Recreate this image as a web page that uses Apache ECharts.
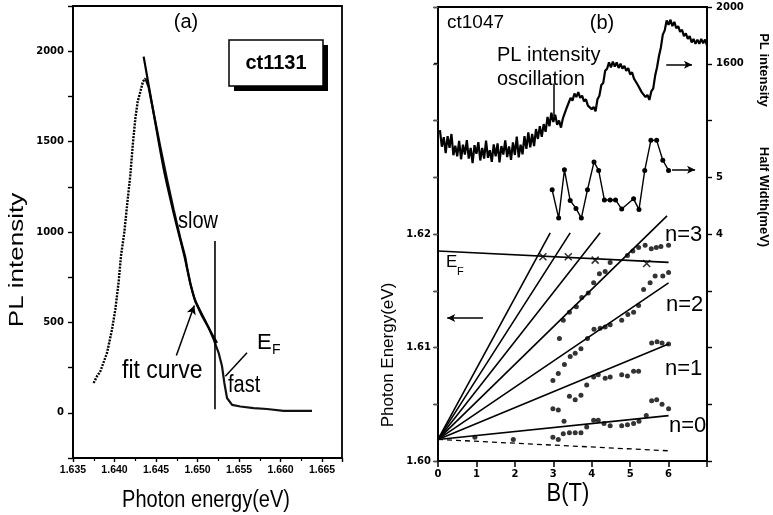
<!DOCTYPE html>
<html><head><meta charset="utf-8">
<script src="https://cdn.jsdelivr.net/npm/echarts@6/dist/echarts.min.js"></script>
<style>html,body{margin:0;padding:0;background:#fff}#c{width:773px;height:515px}</style>
</head><body><div id="c"></div>
<script>
// ---------- Panel (a) data ----------
const aRiseE = [1.63748,1.63789,1.63829,1.63910,1.63970,1.64010,1.64049,1.64078,1.64118,1.64151,1.64190,1.64223,1.64251,1.64279,1.64311,1.64343,1.64371];
const aRiseI = [165,202,229,332,461,572,721,868,998,1146,1313,1498,1628,1721,1776,1832,1850];
const aFallE = [1.64371,1.64411,1.64471,1.64552,1.64633,1.64712,1.64793,1.64853,1.64873,1.64913,1.64973,1.65054,1.65134,1.65194,1.65254,1.65295,1.65323,1.65355,1.65416,1.65516,1.65676,1.65837,1.66037,1.66379];
const aFallI = [1850,1800,1660,1470,1290,1125,965,860,805,715,615,535,470,406,332,257,165,82,44,35,26,21,11,11];
const aFitE = [1.64351,1.6447,1.64592,1.6472,1.6484,1.64953,1.6508,1.6518,1.65235];
const aFitI = [1970,1660,1350,1090,870,646,520,430,387];
const aEfE = [1.6521,1.6521];
const aEfI = [20,950];
const aXTicks = [1.635,1.640,1.645,1.650,1.655,1.660,1.665];
const aYTicks = [0,500,1000,1500,2000];

// ---------- Panel (b) data ----------
const bOrigin = [0, 1.6019];
const bFanEndB = [6, 6, 6, 5.96, 4.22, 3.44, 2.92];
const bFanEndE = [1.6040, 1.6103, 1.6157, 1.6216, 1.6201, 1.6201, 1.6201];
const bEfB = [0, 6];
const bEfE = [1.6185, 1.6175];
const bDashB = [0, 6];
const bDashE = [1.6019, 1.6009];
const bDotB = [4.93,5.07,5.22,5.39,5.55,5.68,5.80,6.00,
  3.26,3.42,3.60,3.74,3.91,4.05,4.20,4.35,4.48,
  5.35,5.52,5.65,5.85,6.00,
  5.22,5.09,4.94,4.78,4.48,4.35,4.22,4.06,3.89,3.72,3.57,3.44,3.29,3.13,2.99,3.16,
  5.22,5.09,4.93,4.78,4.48,4.35,4.17,4.05,3.87,3.72,3.57,3.42,
  5.56,5.70,5.83,6.00,
  2.99,3.13,3.28,4.05,4.17,4.32,4.48,4.78,4.93,5.09,5.23,5.42,5.56,5.69,5.83,6.00,
  2.99,3.13,3.26,3.42,3.57,3.72,3.87,
  0.96,1.96];
const bDotE = [1.6181,1.6185,1.6188,1.6190,1.6187,1.6188,1.6189,1.6190,
  1.6124,1.6131,1.6136,1.6144,1.6148,1.6157,1.6165,1.6167,1.6175,
  1.6151,1.6157,1.6163,1.6163,1.6166,
  1.6137,1.6131,1.6129,1.6124,1.6120,1.6118,1.6117,1.6116,1.6108,1.6099,1.6095,1.6092,1.6085,1.6077,1.6071,1.6108,
  1.6079,1.6079,1.6075,1.6076,1.6074,1.6073,1.6076,1.6074,1.6067,1.6058,1.6054,1.6057,
  1.6104,1.6105,1.6104,1.6103,
  1.6046,1.6045,1.6035,1.6036,1.6036,1.6033,1.6031,1.6031,1.6032,1.6033,1.6035,1.6040,1.6053,1.6054,1.6050,1.6046,
  1.6021,1.6019,1.6024,1.6025,1.6025,1.6025,1.6030,
  1.6021,1.6019];
const bCrossB = [2.73, 3.39, 4.09, 5.43];
const bCrossE = [1.6180, 1.6180, 1.6177, 1.6174];
const bHwB = [2.97,3.14,3.29,3.44,3.59,3.73,3.89,4.06,4.18,4.33,4.48,4.62,4.78,5.09,5.23,5.38,5.54,5.69,5.85,6.0];
const bHwV = [4.78,4.28,5.13,4.59,4.45,4.28,4.78,5.27,5.12,4.60,4.60,4.60,4.44,4.62,4.43,5.12,5.65,5.65,5.30,5.12];
const bPlB = [0.05,0.1,0.15,0.2,0.25,0.3,0.35,0.4,0.45,0.5,0.55,0.6,0.65,0.7,0.75,0.8,0.85,0.9,0.95,1.0,
  1.05,1.1,1.15,1.2,1.25,1.3,1.35,1.4,1.45,1.5,1.55,1.6,1.65,1.7,1.75,1.8,1.85,1.9,1.95,2.0,
  2.05,2.1,2.15,2.2,2.25,2.3,2.35,2.4,2.45,2.5,2.55,2.6,2.65,2.7,2.75,2.8,2.85,2.9,2.95,3.0,
  3.05,3.1,3.15,3.2,3.25,3.3,3.35,3.4,3.45,3.5,3.55,3.6,3.65,3.7,3.75,3.8,3.85,3.9,3.95,4.0,
  4.05,4.1,4.15,4.2,4.25,4.3,4.35,4.4,4.45,4.5,4.55,4.6,4.65,4.7,4.75,4.8,4.85,4.9,4.95,5.0,
  5.05,5.1,5.15,5.2,5.25,5.3,5.35,5.4,5.45,5.5,5.55,5.6,5.65,5.7,5.75,5.8,5.85,5.9,5.95,6.0,
  6.05,6.1,6.15,6.2,6.25,6.3,6.35,6.4,6.45,6.5,6.55,6.6,6.65,6.7,6.75,6.8,6.85,6.9,6.95,7.0];
const bPlV = [1133,1015,1082,970,1090,1007,1105,955,1022,947,1057,927,1030,960,1062,932,1007,899,1026,965,
  1047,918,1007,931,1058,937,991,909,1031,948,1039,905,1020,960,1060,942,1018,922,1045,957,
  1087,940,1030,962,1090,1000,1117,1010,1105,1020,1140,1070,1160,1085,1175,1120,1225,1160,1255,1190,
  1240,1170,1200,1150,1215,1220,1290,1295,1360,1340,1390,1365,1400,1360,1375,1335,1350,1305,1315,1280,
  1295,1265,1350,1375,1450,1465,1550,1565,1610,1575,1615,1580,1610,1570,1600,1565,1585,1550,1570,1525,
  1540,1495,1495,1450,1445,1400,1405,1365,1380,1345,1405,1425,1515,1575,1655,1715,1805,1835,1905,1875,
  1910,1865,1895,1850,1865,1825,1840,1795,1815,1775,1795,1750,1775,1740,1770,1740,1775,1745,1770,1730];
const bXTicks = [0,1,2,3,4,5,6];
const bEnergyTicks = [1.60, 1.61, 1.62];
const bHwTicks = [4, 5];
const bPlTicks = [1600, 2000];

// ---------- helpers ----------
const zip = (xs, ys) => xs.map((x, i) => [x, ys[i]]);
const near = (v, list) => list.some(t => Math.abs(v - t) < 1e-7);
const SANS = '"Liberation Sans", Arial, sans-serif';
function T(text, x, y, size, o) {
  o = o || {};
  return { type: 'text', x: x, y: y, rotation: o.rot || 0, scaleX: o.sx || 1, scaleY: o.sy || 1, z: 100,
    style: { text: text, x: 0, y: 0, fill: '#000', font: (o.bold ? 'bold ' : '') + size + 'px ' + SANS,
      textAlign: o.align || 'left', textVerticalAlign: 'middle' } };
}
const axLine = { onZero: false, lineStyle: { color: '#000', width: 1.8 } };
const lblA = (size, fam) => ({ color: '#000', fontWeight: 'bold', fontSize: size, fontFamily: fam });

const chart = echarts.init(document.getElementById('c'), null, { renderer: 'canvas' });
const fanSeries = bFanEndB.map((b, i) => ({
  type: 'line', xAxisIndex: 1, yAxisIndex: 1, symbol: 'none', silent: true,
  lineStyle: { color: '#000', width: 1.6 }, data: [bOrigin, [b, bFanEndE[i]]]
}));

const option = {
  animation: false,
  backgroundColor: '#fff',
  grid: [
    { left: 73, top: 6, width: 269, height: 452, show: true, borderColor: '#000', borderWidth: 1.8 },
    { left: 438, top: 7, width: 269, height: 454, show: true, borderColor: '#000', borderWidth: 1.8 }
  ],
  xAxis: [
    { gridIndex: 0, type: 'value', min: 1.635, max: 1.6674, interval: 0.005,
      axisLine: axLine, axisTick: { length: 4, lineStyle: { width: 1.4 } },
      minorTick: { show: true, splitNumber: 2, length: 3, lineStyle: { color: '#000', width: 1.2 } },
      splitLine: { show: false },
      axisLabel: Object.assign(lblA(10.5, SANS), { margin: 7, showMaxLabel: false,
        formatter: v => near(v, aXTicks) ? v.toFixed(3) : '' }) },
    { gridIndex: 1, type: 'value', min: 0, max: 7, interval: 1,
      axisLine: axLine, axisTick: { length: 6, lineStyle: { width: 1.5 } },
      splitLine: { show: false },
      axisLabel: Object.assign(lblA(10, '"DejaVu Sans"'), { margin: 8,
        formatter: v => near(v, bXTicks) ? String(v) : '' }) }
  ],
  yAxis: [
    { gridIndex: 0, type: 'value', min: -250, max: 2250, interval: 250,
      axisLine: axLine, axisTick: { length: 5, lineStyle: { width: 1.4 } }, splitLine: { show: false },
      axisLabel: Object.assign(lblA(10, '"DejaVu Sans"'), { margin: 9,
        formatter: v => near(v, aYTicks) ? String(v) : '' }) },
    { gridIndex: 1, type: 'value', position: 'left', min: 1.60, max: 1.64, interval: 0.005,
      axisLine: axLine, axisTick: { length: 4, lineStyle: { width: 1.4 } }, splitLine: { show: false },
      axisLabel: Object.assign(lblA(10, '"DejaVu Sans"'), { margin: 7,
        formatter: v => near(v, bEnergyTicks) ? v.toFixed(2) : '' }) },
    { gridIndex: 1, type: 'value', position: 'right', min: 0, max: 8, interval: 1,
      axisLine: axLine, axisTick: { length: 5, lineStyle: { width: 1.4 } }, splitLine: { show: false },
      axisLabel: Object.assign(lblA(10, '"DejaVu Sans"'), { margin: 9,
        formatter: v => near(v, bHwTicks) ? String(v) : '' }) },
    { gridIndex: 1, type: 'value', position: 'right', min: -1200, max: 2000, interval: 400,
      axisLine: { show: false }, axisTick: { inside: true, length: 5, lineStyle: { width: 1.4 } },
      splitLine: { show: false },
      axisLabel: Object.assign(lblA(10, '"DejaVu Sans"'), { margin: 9,
        formatter: v => near(v, bPlTicks) ? String(v) : '' }) }
  ],
  series: [
    // ----- panel (a)
    { type: 'line', xAxisIndex: 0, yAxisIndex: 0, symbol: 'none', silent: true,
      lineStyle: { color: '#000', width: 2.4, type: [2, 1.2] }, data: zip(aRiseE, aRiseI) },
    { type: 'line', xAxisIndex: 0, yAxisIndex: 0, symbol: 'none', silent: true,
      lineStyle: { color: '#111', width: 2.2 }, data: zip(aFallE, aFallI) },
    { type: 'line', xAxisIndex: 0, yAxisIndex: 0, symbol: 'none', silent: true, smooth: 0.3,
      lineStyle: { color: '#000', width: 2.2 }, data: zip(aFitE, aFitI),
      markLine: { silent: true, symbol: ['none', 'arrow'], symbolSize: [7, 9], label: { show: false },
        lineStyle: { color: '#000', width: 1.5, type: 'solid' },
        data: [
          [{ coord: [1.64745, 317] }, { coord: [1.64961, 594] }],
          [{ coord: [1.65596, 332], symbol: 'none' }, { coord: [1.65335, 202], symbol: 'none' }]
        ] } },
    { type: 'line', xAxisIndex: 0, yAxisIndex: 0, symbol: 'none', silent: true,
      lineStyle: { color: '#000', width: 1.6 }, data: zip(aEfE, aEfI) },
    // ----- panel (b)
    ...fanSeries,
    { type: 'line', xAxisIndex: 1, yAxisIndex: 1, symbol: 'none', silent: true,
      lineStyle: { color: '#000', width: 1.6 }, data: zip(bEfB, bEfE),
      markLine: { silent: true, symbol: ['none', 'arrow'], symbolSize: [6, 8], label: { show: false },
        lineStyle: { color: '#000', width: 1.5, type: 'solid' },
        data: [[{ coord: [1.17, 1.6126] }, { coord: [0.24, 1.6126] }]] } },
    { type: 'line', xAxisIndex: 1, yAxisIndex: 1, symbol: 'none', silent: true,
      lineStyle: { color: '#000', width: 1.3, type: [5, 4] }, data: zip(bDashB, bDashE) },
    { type: 'scatter', xAxisIndex: 1, yAxisIndex: 1, symbol: 'circle', symbolSize: 5, silent: true,
      itemStyle: { color: '#000' }, data: zip(bDotB, bDotE) },
    { type: 'scatter', xAxisIndex: 1, yAxisIndex: 1, symbol: 'path://M0 0L10 10M10 0L0 10', symbolSize: 7,
      silent: true, itemStyle: { color: 'rgba(0,0,0,0)', borderColor: '#000', borderWidth: 1.6 },
      data: zip(bCrossB, bCrossE) },
    { type: 'line', xAxisIndex: 1, yAxisIndex: 2, symbol: 'circle', symbolSize: 5, silent: true,
      itemStyle: { color: '#000' }, lineStyle: { color: '#000', width: 1.4 }, data: zip(bHwB, bHwV),
      markLine: { silent: true, symbol: ['none', 'arrow'], symbolSize: [6, 8], label: { show: false },
        lineStyle: { color: '#000', width: 1.5, type: 'solid' },
        data: [[{ coord: [6.09, 5.13] }, { coord: [6.69, 5.13] }]] } },
    { type: 'line', xAxisIndex: 1, yAxisIndex: 3, symbol: 'none', silent: true,
      lineStyle: { color: '#000', width: 2.2 }, data: zip(bPlB, bPlV),
      markLine: { silent: true, symbol: ['none', 'arrow'], symbolSize: [6, 8], label: { show: false },
        lineStyle: { color: '#000', width: 1.5, type: 'solid' },
        data: [
          [{ coord: [5.94, 1593] }, { coord: [6.61, 1593] }],
          [{ coord: [3.0, 1460], symbol: 'none' }, { coord: [3.0, 1230], symbol: 'none' }]
        ] } }
  ],
  graphic: [
    // panel (a) texts
    T('(a)', 186, 22, 20, { align: 'center' }),
    { type: 'rect', shape: { x: 234, y: 45, width: 94, height: 46 }, style: { fill: '#000' }, z: 90 },
    { type: 'rect', shape: { x: 229, y: 40, width: 94, height: 46 }, style: { fill: '#fff', stroke: '#000', lineWidth: 1.5 }, z: 91 },
    T('ct1131', 276, 63, 20, { align: 'center', bold: true }),
    T('slow', 178, 221, 20, { sy: 1.2 }),
    T('fit curve', 122, 371, 23, { sy: 1.1 }),
    T('fast', 228, 385.5, 20, { sy: 1.15 }),
    T('E', 257, 343, 22),
    T('F', 272, 350, 14),
    T('Photon energy(eV)', 206, 501, 20, { align: 'center', sy: 1.15 }),
    T('PL intensity', 17, 260, 20, { align: 'center', rot: Math.PI / 2, sx: 1.3 }),
    // panel (b) texts
    T('ct1047', 447, 23, 19),
    T('(b)', 602, 23, 20, { align: 'center' }),
    T('PL intensity', 497, 55.5, 20),
    T('oscillation', 497, 79.5, 20),
    T('E', 446, 262.5, 17),
    T('F', 457, 271.5, 11),
    T('n=3', 665, 235, 22),
    T('n=2', 666, 304.7, 22),
    T('n=1', 665, 369, 22),
    T('n=0', 669, 425.7, 22),
    T('B(T)', 568, 494, 22, { align: 'center', sy: 1.2 }),
    T('Photon Energy(eV)', 388, 355, 17, { align: 'center', rot: Math.PI / 2 }),
    T('PL intensity', 764, 70, 13, { align: 'center', rot: -Math.PI / 2, bold: true }),
    T('Half Width(meV)', 764, 197, 13, { align: 'center', rot: -Math.PI / 2, bold: true })
  ]
};
chart.setOption(option);
</script>
</body></html>
